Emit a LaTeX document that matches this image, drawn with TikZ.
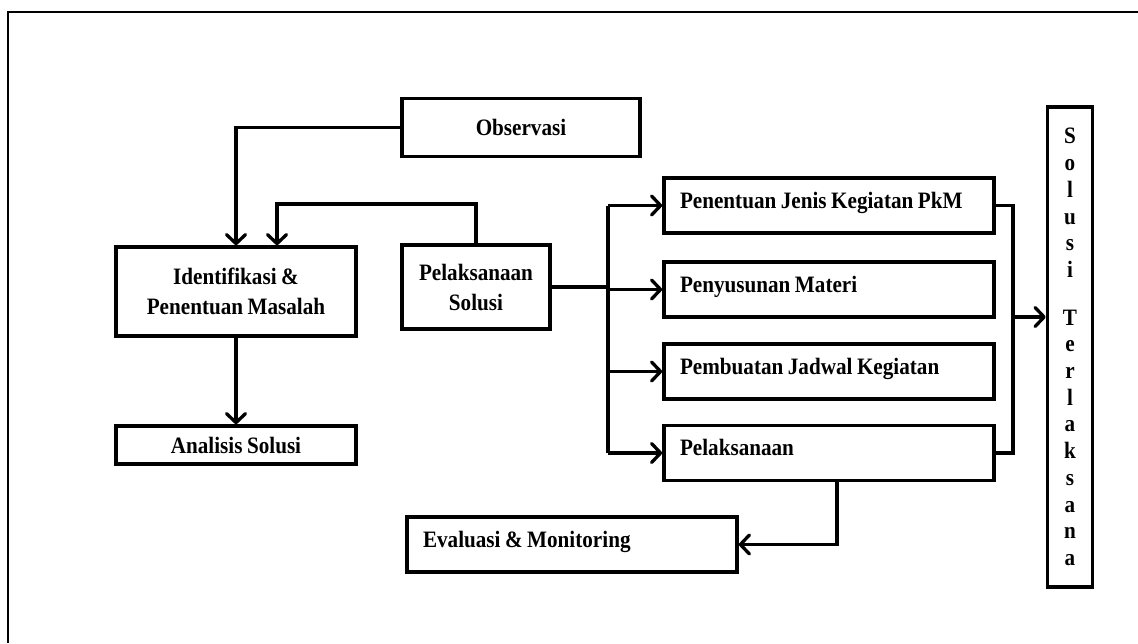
\documentclass[tikz,border=0pt]{standalone}
\usepackage{fontspec}
\setmainfont{Liberation Serif}[FakeStretch=0.9,WordSpace=0.85]
\usetikzlibrary{arrows.meta}
\newcommand\lefttxt[1]{\makebox[298pt][l]{#1}}
\begin{document}
\begin{tikzpicture}[x=1pt,y=-1pt,
  box/.style={draw,line width=3.5pt,rectangle,inner sep=0pt,align=center,
    font=\fontsize{23.5}{30}\selectfont\bfseries},
  lbox/.style={box,inner xsep=16pt,
    minimum width=330pt,minimum height=55pt,text height=17pt,text depth=12pt},
  conn/.style={line width=3.3pt},
  arr/.style={conn,-{Straight Barb[length=9pt,width=19pt,line cap=round,line join=round]}}]
\useasboundingbox (0,0) rectangle (1138,643);
\draw[line width=2pt] (8,643) -- (8,12) -- (1138,12);

\node[box,minimum width=238pt,minimum height=58pt] (obs) at (521,127.5) {Observasi};
\node[box,minimum width=240pt,minimum height=89pt] (ident) at (236,291.5) {Identifikasi \&\\Penentuan Masalah};
\node[box,minimum width=148pt,minimum height=84pt] (pel) at (476,287) {Pelaksanaan\\Solusi};
\node[box,minimum width=240pt,minimum height=38pt] (ana) at (236,445) {Analisis Solusi};

\node[lbox] (b1) at (829,205.5) {\lefttxt{Penentuan Jenis Kegiatan PkM}};
\node[lbox] (b2) at (829,289.5) {\lefttxt{Penyusunan Materi}};
\node[lbox] (b3) at (829,371.5) {\lefttxt{Pembuatan Jadwal Kegiatan}};
\node[lbox] (b4) at (829,453) {\lefttxt{Pelaksanaan}};
\node[lbox] (eval) at (572,544.5) {\lefttxt{Evaluasi \& Monitoring}};

\node[box,minimum width=45pt,minimum height=480pt,font=\fontsize{23.5}{26.7}\selectfont\bfseries] (sol) at (1070,347)
  {S\\o\\l\\u\\s\\i\\[21pt]T\\e\\r\\l\\a\\k\\s\\a\\n\\a};

% connectors
\draw[arr] (obs.west) -| (ident.north);
\coordinate (k1) at (277,204);
\draw[arr] (pel.north) |- (k1) -- (k1 |- ident.north);
\draw[arr] (ident.south) -- (ana.north);

\coordinate (bx) at (608,0);
\draw[conn] (pel.east) -- (pel.east -| bx);
\draw[conn] (bx |- b1.west) -- (bx |- b4.west);
\draw[arr] (bx |- b1.west) -- (b1.west);
\draw[arr] (bx |- b2.west) -- (b2.west);
\draw[arr] (bx |- b3.west) -- (b3.west);
\draw[arr] (bx |- b4.west) -- (b4.west);

\coordinate (cx) at (1013,317);
\draw[conn] (b1.east) -- (b1.east -| cx) -- (b4.east -| cx) -- (b4.east);
\draw[arr] (cx) -- (cx -| sol.west);

\coordinate (ex) at (837,0);
\draw[arr] (b4.south -| ex) |- (eval.east);
\end{tikzpicture}
\end{document}
